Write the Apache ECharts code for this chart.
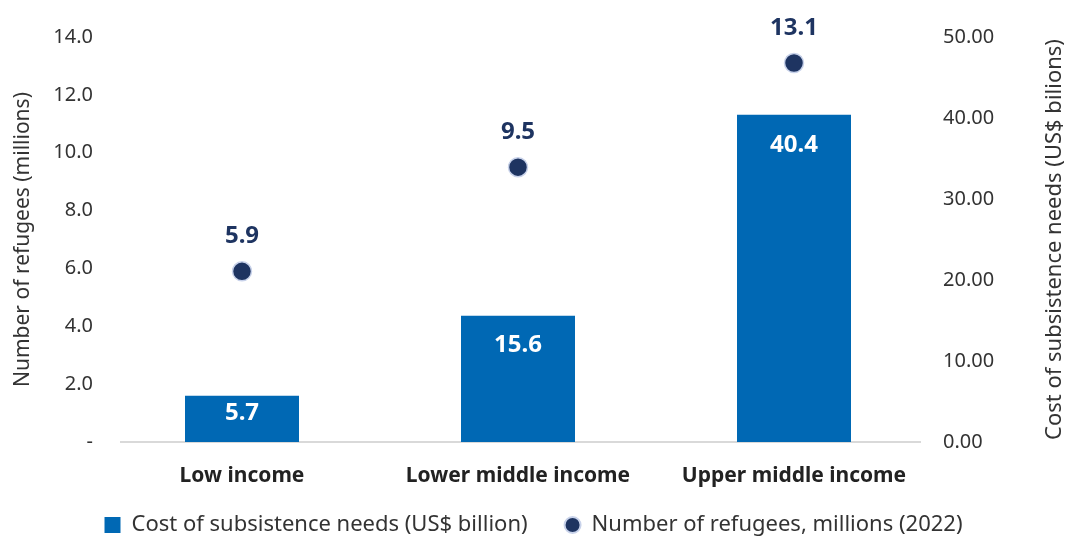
<!DOCTYPE html>
<html>
<head>
<meta charset="utf-8">
<script src="https://cdn.jsdelivr.net/npm/echarts@6/dist/echarts.min.js"></script>
<style>
  html, body { margin: 0; padding: 0; background: #ffffff; }
  #chart { width: 1067px; height: 538px; }
</style>
</head>
<body>
<div id="chart"></div>
<script>
// Income groups on the category axis
const categories = ['Low income', 'Lower middle income', 'Upper middle income'];
// Cost of subsistence needs, US$ billion (right axis)
const costBillion = [5.7, 15.6, 40.4];
// Number of refugees in 2022, millions (left axis)
const refugeesMillions = [5.9, 9.5, 13.1];
// Left axis tick labels (zero shown as a dash)
const leftTicks = ['-', '2.0', '4.0', '6.0', '8.0', '10.0', '12.0', '14.0'];

const FONT = '"Noto Sans", "Open Sans", sans-serif';
const NAVY = '#1e3461';
const chart = echarts.init(document.getElementById('chart'));

chart.setOption({
  animation: false,
  textStyle: { fontFamily: FONT },
  grid: { left: 104, right: 135, top: 37, bottom: 96, outerBoundsMode: 'none' },
  legend: {
    bottom: 2,
    padding: 0,
    left: 'center',
    itemGap: 36,
    itemWidth: 16,
    itemHeight: 16,
    textStyle: { fontSize: 22, color: '#333333', fontFamily: FONT, padding: [0, 0, 0, 6] },
    data: [
      { name: 'Cost of subsistence needs (US$ billion)', icon: 'rect' },
      { name: 'Number of refugees, millions (2022)', icon: 'circle' }
    ]
  },
  xAxis: {
    type: 'category',
    data: categories,
    axisLine: { show: false },
    axisTick: { show: false },
    axisLabel: { interval: 0, fontSize: 21, fontWeight: 'bold', color: '#222222', margin: 24 }
  },
  yAxis: [
    {
      type: 'value',
      min: 0,
      max: 14,
      interval: 2,
      position: 'left',
      name: 'Number of refugees (millions)',
      nameLocation: 'middle',
      nameGap: 70,
      nameTextStyle: { fontSize: 21, color: '#333333' },
      splitLine: { show: false },
      axisLine: { show: false },
      axisTick: { show: false },
      axisLabel: {
        fontSize: 20,
        color: '#333333',
        margin: 11,
        formatter: (v) => leftTicks[Math.round(v / 2)]
      }
    },
    {
      type: 'value',
      min: 0,
      max: 50,
      interval: 10,
      position: 'right',
      name: 'Cost of subsistence needs (US$ bilions)',
      nameLocation: 'middle',
      nameGap: 112,
      nameRotate: 90,
      nameTextStyle: { fontSize: 22, color: '#333333' },
      splitLine: { show: false },
      axisLine: { show: false },
      axisTick: { show: false },
      axisLabel: {
        fontSize: 20,
        color: '#333333',
        margin: 11,
        formatter: (v) => v.toFixed(2)
      }
    }
  ],
  series: [
    {
      name: 'Cost of subsistence needs (US$ billion)',
      type: 'bar',
      yAxisIndex: 1,
      barWidth: 114,
      itemStyle: { color: '#0068b4' },
      label: {
        show: true,
        position: 'insideTop',
        fontSize: 24,
        fontWeight: 'bold',
        color: '#ffffff',
        formatter: (p) => p.value.toFixed(1)
      },
      data: costBillion.map((v) => ({ value: v, label: { distance: v < 10 ? 5 : 18 } }))
    },
    {
      name: 'Number of refugees, millions (2022)',
      type: 'scatter',
      yAxisIndex: 0,
      symbol: 'circle',
      symbolSize: 19,
      itemStyle: { color: NAVY, opacity: 1, borderColor: '#c8d2ea', borderWidth: 1.5 },
      label: {
        show: true,
        position: 'top',
        distance: 13,
        fontSize: 24,
        fontWeight: 'bold',
        color: NAVY,
        formatter: (p) => p.value.toFixed(1)
      },
      data: refugeesMillions
    }
  ]
});

// Light baseline under the bars, placed at the zero of the axes
const baseY = chart.convertToPixel({ yAxisIndex: 0 }, 0);
chart.setOption({
  graphic: [{
    type: 'line',
    z: 0,
    shape: { x1: 120, y1: baseY, x2: 921, y2: baseY },
    style: { stroke: '#d9d9d9', lineWidth: 2 }
  }]
});
</script>
</body>
</html>
